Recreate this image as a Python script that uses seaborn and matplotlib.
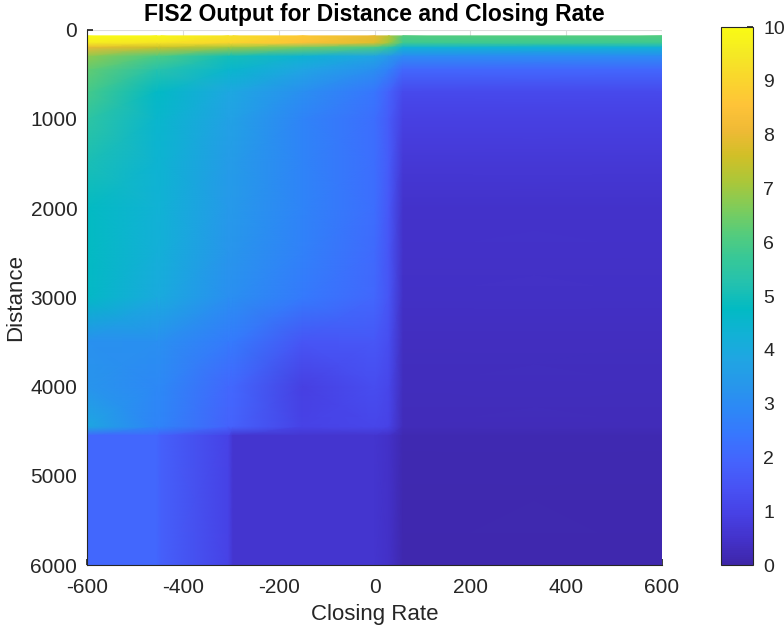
import numpy as np
import matplotlib
matplotlib.use("Agg")
import matplotlib.pyplot as plt
import seaborn as sns
from matplotlib.colors import LinearSegmentedColormap

# grid nodes (closing rate across, distance down)
closing_rate = [-600, -455, -445, -305, -295, -150, 0, 30, 60, 600]
distance = [70, 150, 200, 300, 450, 700, 1000, 1500, 2000, 2500,
            3000, 3500, 4000, 4450, 4550, 6000]

# FIS2 output at every node, one row per distance
fis_output = [
    [10.0, 9.9, 9.9, 9.4, 9.3, 8.7, 8.0, 7.3, 6.1, 6.1],
    [9.6, 9.4, 9.4, 9.0, 9.0, 8.5, 7.8, 7.0, 5.8, 5.8],
    [8.0, 7.5, 7.5, 7.0, 7.0, 6.5, 6.0, 5.5, 4.3, 4.3],
    [6.8, 6.0, 6.0, 5.0, 5.0, 4.4, 3.8, 3.4, 3.0, 3.0],
    [6.3, 5.3, 5.3, 4.5, 4.5, 3.8, 3.1, 2.7, 2.0, 2.0],
    [5.9, 4.7, 4.7, 3.9, 3.9, 3.1, 2.4, 1.9, 1.2, 1.2],
    [5.5, 4.5, 4.5, 3.7, 3.7, 2.8, 2.2, 1.7, 0.9, 0.9],
    [5.1, 4.4, 4.4, 3.5, 3.5, 2.8, 2.2, 1.7, 0.7, 0.7],
    [4.8, 4.3, 4.3, 3.4, 3.4, 2.8, 2.2, 1.6, 0.5, 0.5],
    [4.8, 4.2, 4.2, 3.3, 3.3, 2.7, 2.1, 1.5, 0.45, 0.45],
    [4.7, 4.0, 4.0, 3.1, 3.1, 2.5, 2.0, 1.5, 0.4, 0.4],
    [3.2, 3.1, 3.1, 2.5, 2.5, 1.5, 1.6, 1.3, 0.35, 0.35],
    [3.3, 2.9, 2.9, 2.0, 2.0, 0.9, 1.3, 1.1, 0.3, 0.3],
    [3.9, 2.8, 2.8, 1.9, 1.9, 1.0, 1.1, 1.0, 0.25, 0.25],
    [2.0, 2.0, 1.8, 1.0, 0.55, 0.55, 0.55, 0.45, 0.15, 0.15],
    [2.0, 2.0, 1.8, 1.0, 0.55, 0.55, 0.55, 0.45, 0.1, 0.1],
]

# MATLAB's (old) parula colormap, every third entry
parula_colors = [
    (0.2422, 0.1504, 0.6603), (0.2647, 0.1978, 0.7952), (0.2783, 0.2559, 0.8991),
    (0.2810, 0.3228, 0.9579), (0.2699, 0.3892, 0.9906), (0.2206, 0.4603, 0.9973),
    (0.1786, 0.5289, 0.9682), (0.1540, 0.5902, 0.9218), (0.1248, 0.6459, 0.8883),
    (0.0689, 0.6948, 0.8394), (0.0067, 0.7312, 0.7660), (0.1408, 0.7584, 0.6842),
    (0.2161, 0.7843, 0.5923), (0.3406, 0.8008, 0.4789), (0.5044, 0.7993, 0.3480),
    (0.6720, 0.7793, 0.2227), (0.8203, 0.7498, 0.1535), (0.9393, 0.7288, 0.2100),
    (0.9970, 0.7659, 0.2199), (0.9786, 0.8386, 0.1766), (0.9597, 0.9135, 0.1423),
    (0.9769, 0.9839, 0.0805),
]
parula = LinearSegmentedColormap.from_list("parula", parula_colors, N=256)

sns.set_theme(style="white")
plt.rcParams["font.family"] = ["Liberation Sans", "DejaVu Sans"]
plt.rcParams["axes.unicode_minus"] = False
text_color = "#262626"

fig = plt.figure(figsize=(7.84, 6.30), dpi=100)
ax = fig.add_axes([0.111, 0.103, 0.7334, 0.850])
cax = fig.add_axes([0.920, 0.103, 0.041, 0.854])

X, Y = np.meshgrid(closing_rate, distance)
mesh = ax.pcolormesh(X, Y, np.array(fis_output), cmap=parula, vmin=0, vmax=10,
                     shading="gouraud", zorder=2)

ax.set_xlim(-600, 600)
ax.set_ylim(6000, 0)
ax.set_xticks(range(-600, 601, 200))
ax.set_yticks(range(0, 6001, 1000))
ax.grid(True, color="#dcdcdc", linewidth=0.8, zorder=0)
ax.set_axisbelow(True)
for side in ["top", "right"]:
    ax.spines[side].set_visible(False)
for side in ["left", "bottom"]:
    ax.spines[side].set_color(text_color)
    ax.spines[side].set_linewidth(0.8)
ax.tick_params(axis="y", direction="in", length=4, labelsize=15, colors=text_color,
               left=True, pad=7)
ax.tick_params(axis="x", direction="in", length=4, labelsize=15, colors=text_color,
               bottom=True, pad=9)
ax.set_xlabel("Closing Rate", fontsize=16, color=text_color, labelpad=5)
ax.set_ylabel("Distance", fontsize=16, color=text_color, labelpad=3)
ax.set_title("FIS2 Output for Distance and Closing Rate", fontsize=16.5,
             fontweight="bold", color="black", pad=6)

cb = fig.colorbar(mesh, cax=cax, ticks=range(0, 11))
cb.outline.set_edgecolor(text_color)
cb.outline.set_linewidth(0.8)
cax.tick_params(direction="in", length=4, labelsize=14, colors=text_color,
                right=True, pad=7)

fig.savefig("out.png", dpi=100)
